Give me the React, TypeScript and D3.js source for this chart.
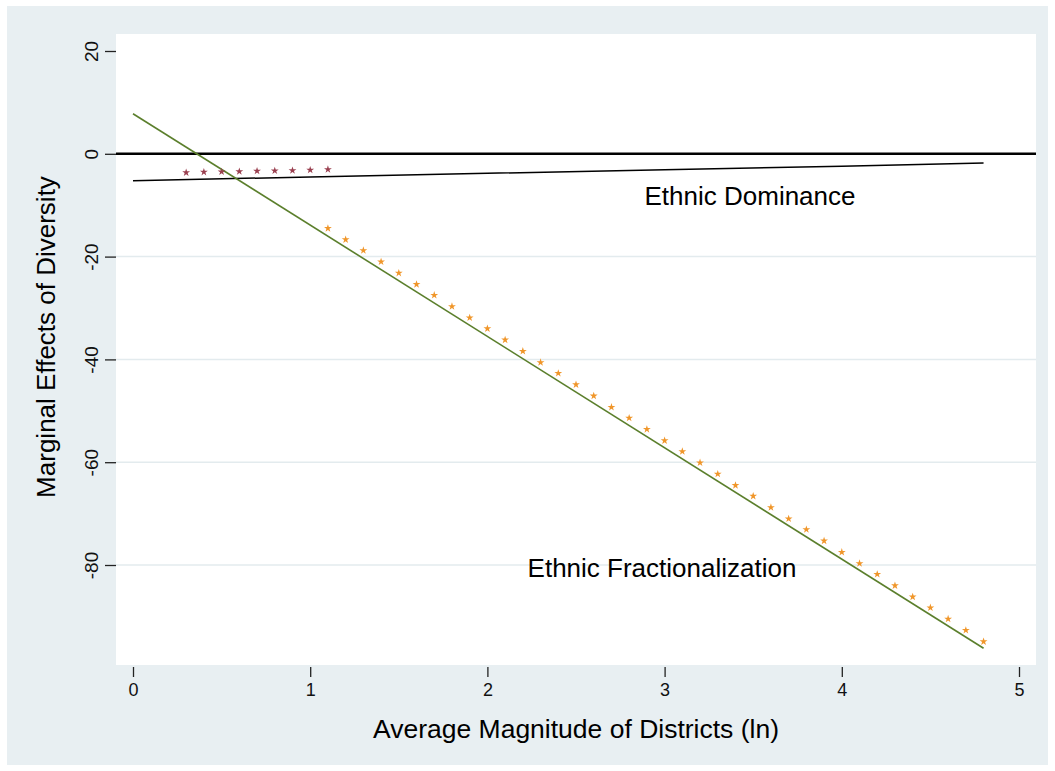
import React, { useEffect, useRef } from 'react';
import * as d3 from 'd3';

// values
const xTicks = [0, 1, 2, 3, 4, 5];
const yTicks = [20, 0, -20, -40, -60, -80];
const gridTicks = [-20, -40, -60, -80];

const domStarX = [0.3, 0.4, 0.5, 0.6, 0.7, 0.8, 0.9, 1.0, 1.1];
const domStarY = [-3.65, -3.55, -3.5, -3.45, -3.35, -3.3, -3.25, -3.15, -3.05];

const fracStarX = [
  1.1, 1.2, 1.3, 1.4, 1.5, 1.6, 1.7, 1.8, 1.9, 2.0,
  2.1, 2.2, 2.3, 2.4, 2.5, 2.6, 2.7, 2.8, 2.9, 3.0,
  3.1, 3.2, 3.3, 3.4, 3.5, 3.6, 3.7, 3.8, 3.9, 4.0,
  4.1, 4.2, 4.3, 4.4, 4.5, 4.6, 4.7, 4.8,
];
const fracStarY = [
  -14.5, -16.7, -18.8, -21.0, -23.2, -25.4, -27.5, -29.7, -31.9, -34.0,
  -36.2, -38.4, -40.6, -42.7, -44.9, -47.1, -49.3, -51.4, -53.6, -55.8,
  -57.9, -60.1, -62.3, -64.5, -66.6, -68.8, -71.0, -73.1, -75.3, -77.5,
  -79.7, -81.8, -84.0, -86.2, -88.3, -90.5, -92.7, -94.9,
];

const domLineX = [0, 1, 2, 3, 4, 4.8];
const domLineY = [-5.25, -4.5, -3.8, -3.1, -2.4, -1.8];

const fracLineX = [0, 4.8];
const fracLineY = [7.8, -96.2];

const W = 1055;
const H = 771;

function DiversityChart() {
  const svgRef = useRef<SVGSVGElement>(null);

  useEffect(() => {
    const svg = d3.select(svgRef.current);
    svg.selectAll('*').remove();

    const plot = { left: 116, right: 1036, top: 34, bottom: 665 };
    const font = 'Liberation Sans, Arial, Helvetica, sans-serif';
    const fmt = (d: d3.NumberValue) => String(d);

    const x = d3.scaleLinear().domain([0, 5]).range([133, 1019]);
    const y = d3.scaleLinear().domain([-80, 20]).range([565, 51]);

    svg.append('rect').attr('width', W).attr('height', H).attr('fill', '#fff');
    svg.append('rect')
      .attr('x', 7).attr('y', 6).attr('width', 1041).attr('height', 759)
      .attr('fill', '#e8eff2');
    svg.append('rect')
      .attr('x', plot.left).attr('y', plot.top)
      .attr('width', plot.right - plot.left).attr('height', plot.bottom - plot.top)
      .attr('fill', '#fff');

    // grid
    svg.append('g').selectAll('line')
      .data(gridTicks)
      .enter().append('line')
      .attr('x1', plot.left).attr('x2', plot.right)
      .attr('y1', d => y(d)).attr('y2', d => y(d))
      .attr('stroke', '#e3ebee').attr('stroke-width', 1.5);

    // y axis
    const yAxis = svg.append('g')
      .attr('transform', `translate(${plot.left},0)`)
      .call(d3.axisLeft(y).tickValues(yTicks).tickSize(11).tickFormat(fmt));
    yAxis.select('.domain').remove();
    yAxis.selectAll('line').attr('stroke', '#222').attr('stroke-width', 1.3);
    yAxis.selectAll('text')
      .attr('x', null).attr('dy', null)
      .attr('transform', 'translate(-18,0) rotate(-90)')
      .attr('text-anchor', 'middle')
      .attr('y', 0)
      .style('font-family', font).style('font-size', '19px').attr('fill', '#111');

    // x axis
    const xAxis = svg.append('g')
      .attr('transform', `translate(0,${plot.bottom + 2})`)
      .call(d3.axisBottom(x).tickValues(xTicks).tickSize(10).tickPadding(6).tickFormat(fmt));
    xAxis.select('.domain').remove();
    xAxis.selectAll('line').attr('stroke', '#222').attr('stroke-width', 1.3);
    xAxis.selectAll('text')
      .style('font-family', font).style('font-size', '18px').attr('fill', '#111');

    // zero line
    svg.append('line')
      .attr('x1', plot.left).attr('x2', plot.right)
      .attr('y1', y(0)).attr('y2', y(0))
      .attr('stroke', '#000').attr('stroke-width', 2.5);

    const line = d3.line<[number, number]>().x(d => x(d[0])).y(d => y(d[1]));

    svg.append('path')
      .attr('d', line(domLineX.map((v, i) => [v, domLineY[i]])))
      .attr('fill', 'none').attr('stroke', '#000').attr('stroke-width', 1.5);

    svg.append('path')
      .attr('d', line(fracLineX.map((v, i) => [v, fracLineY[i]])))
      .attr('fill', 'none').attr('stroke', '#5b7f2c').attr('stroke-width', 1.6);

    const star = d3.symbol().type(d3.symbolStar).size(19);

    svg.append('g').selectAll('path')
      .data(domStarX.map((v, i) => [v, domStarY[i]]))
      .enter().append('path')
      .attr('d', star)
      .attr('transform', d => `translate(${x(d[0])},${y(d[1])})`)
      .attr('fill', '#9a4050');

    svg.append('g').selectAll('path')
      .data(fracStarX.map((v, i) => [v, fracStarY[i]]))
      .enter().append('path')
      .attr('d', star)
      .attr('transform', d => `translate(${x(d[0])},${y(d[1])})`)
      .attr('fill', '#f0962a');

    // labels
    svg.append('text')
      .attr('x', 750).attr('y', 205)
      .attr('text-anchor', 'middle')
      .style('font-family', font).style('font-size', '26px')
      .text('Ethnic Dominance');

    svg.append('text')
      .attr('x', 662).attr('y', 577)
      .attr('text-anchor', 'middle')
      .style('font-family', font).style('font-size', '26px')
      .text('Ethnic Fractionalization');

    svg.append('text')
      .attr('x', 576).attr('y', 738)
      .attr('text-anchor', 'middle')
      .style('font-family', font).style('font-size', '26.5px')
      .text('Average Magnitude of Districts (ln)');

    svg.append('text')
      .attr('transform', 'translate(55,337) rotate(-90)')
      .attr('text-anchor', 'middle')
      .style('font-family', font).style('font-size', '26px')
      .text('Marginal Effects of Diversity');
  }, []);

  return (
    <svg ref={svgRef} width={W} height={H} style={{ position: 'absolute', left: 0, top: 0 }} />
  );
}

export default function App() {
  return <DiversityChart />;
}
